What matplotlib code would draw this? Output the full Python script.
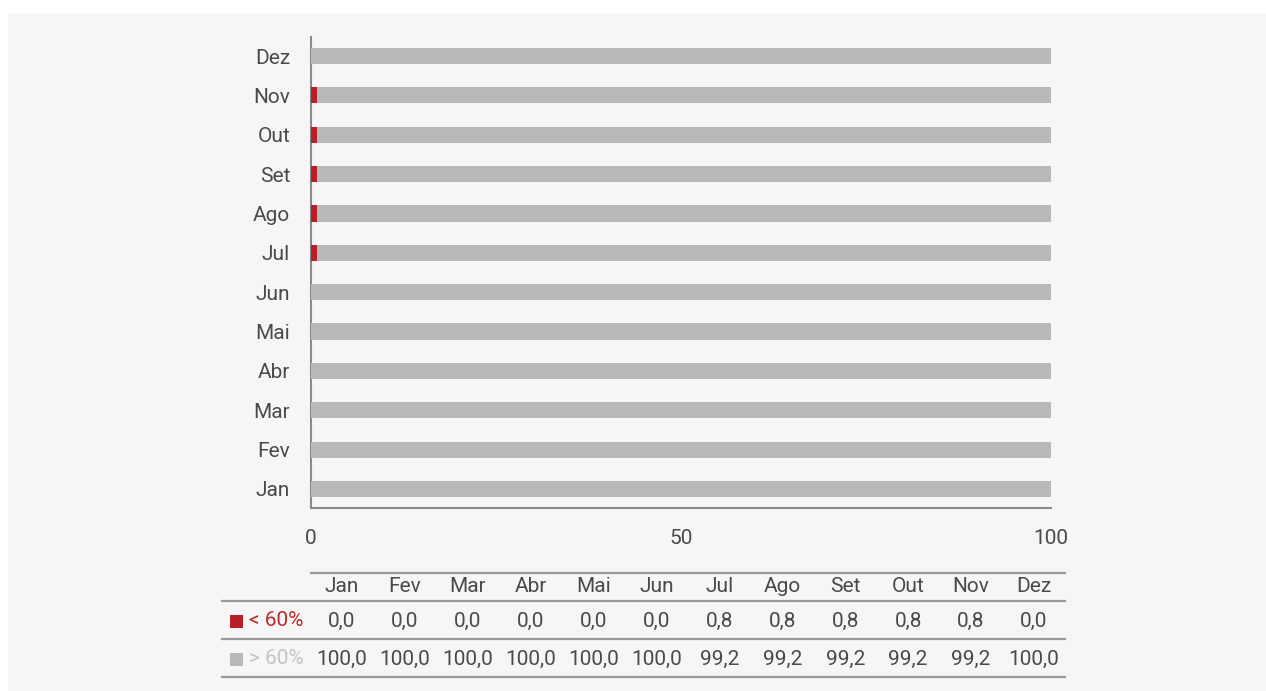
import matplotlib
matplotlib.use("Agg")
import matplotlib.pyplot as plt
from matplotlib.patches import Rectangle

months = ["Jan", "Fev", "Mar", "Abr", "Mai", "Jun", "Jul", "Ago", "Set", "Out", "Nov", "Dez"]
below60 = [0.0, 0.0, 0.0, 0.0, 0.0, 0.0, 0.8, 0.8, 0.8, 0.8, 0.8, 0.0]
above60 = [100.0, 100.0, 100.0, 100.0, 100.0, 100.0, 99.2, 99.2, 99.2, 99.2, 99.2, 100.0]
series_labels = ["< 60%", "> 60%"]
xticks = [0, 50, 100]

RED = "#b81f27"
GRAY = "#b9b9ba"
TXT = "#4a4a4a"
LINE = "#9a9a9a"
BG = "#f6f6f6"

plt.rcParams["font.family"] = ["Roboto", "DejaVu Sans"]

W, H = 1266, 691
fig = plt.figure(figsize=(W / 100, H / 100), dpi=100)
fig.patch.set_facecolor("white")
fig.patches.append(Rectangle((8 / W, 0), 1 - 8 / W, 1 - 13 / H, transform=fig.transFigure,
                             facecolor=BG, edgecolor="none", zorder=-10))

def px_axes(x0, y0, x1, y1):
    return fig.add_axes([x0 / W, 1 - y1 / H, (x1 - x0) / W, (y1 - y0) / H])

ax = px_axes(311, 37, 1051, 508)
ax.set_facecolor("none")
ypos = list(range(len(months)))
ax.barh(ypos, below60, height=0.41, color=RED, zorder=3)
ax.barh(ypos, above60, left=below60, height=0.41, color=GRAY, zorder=3)
ax.set_xlim(0, 100)
ax.set_ylim(-0.483, 11.483)
ax.set_yticks(ypos)
ax.set_yticklabels(months)
ax.set_xticks(xticks)
ax.set_xticklabels([str(t) for t in xticks])
ax.tick_params(axis="both", length=0, labelsize=15, colors=TXT)
ax.tick_params(axis="y", pad=15)
ax.tick_params(axis="x", pad=15)
for s in ["top", "right"]:
    ax.spines[s].set_visible(False)
for s in ["left", "bottom"]:
    ax.spines[s].set_color("#8a8a8a")
    ax.spines[s].set_linewidth(1.5)

# table
tx = px_axes(222, 573, 1065, 677)
tx.set_facecolor("none")
tx.axis("off")
sp = 62.9
tx.set_xlim((222 - 342) / sp, (1065 - 342) / sp)
tx.set_ylim(677, 573)
tx.plot([(311 - 342) / sp, (1065 - 342) / sp], [573, 573], color=LINE, lw=1.6, clip_on=False)
for yl in [601, 639, 677]:
    tx.plot([(222 - 342) / sp, (1065 - 342) / sp], [yl, yl], color=LINE, lw=1.6, clip_on=False)
for i, m in enumerate(months):
    tx.text(i, 587, m, ha="center", va="center", fontsize=15, color=TXT)
    tx.text(i, 621, f"{below60[i]:.1f}".replace(".", ","), ha="center", va="center", fontsize=15, color=TXT)
    tx.text(i, 659, f"{above60[i]:.1f}".replace(".", ","), ha="center", va="center", fontsize=15, color=TXT)
for yc, lab, col, tcol in [(621, series_labels[0], RED, "#c0282f"), (659, series_labels[1], GRAY, "#c4c4c4")]:
    tx.add_patch(Rectangle(((230 - 342) / sp, yc - 6.5), 13 / sp, 13, facecolor=col, edgecolor="none", clip_on=False))
    tx.text((249 - 342) / sp, yc, lab, ha="left", va="center", fontsize=15, color=tcol)

fig.savefig("out.png", dpi=100, facecolor=fig.get_facecolor())
